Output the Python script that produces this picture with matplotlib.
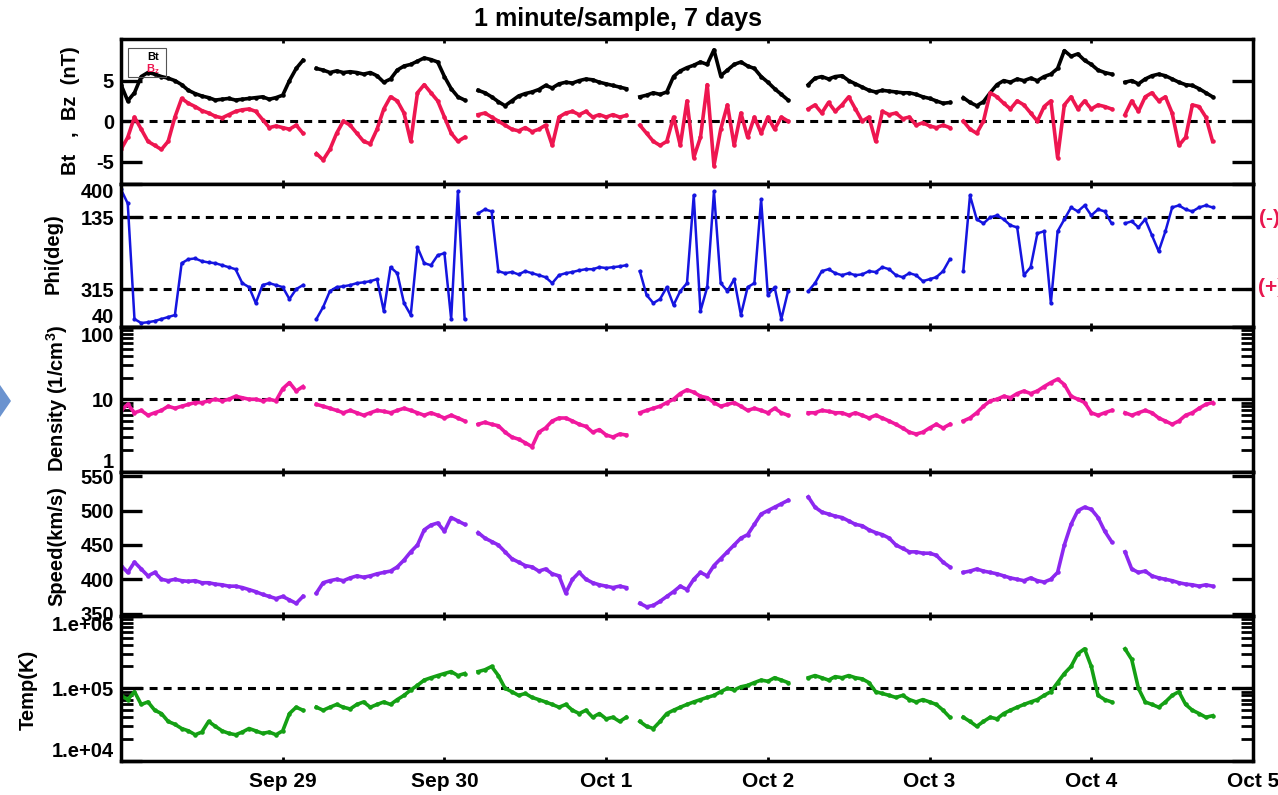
import numpy as np
import matplotlib.pyplot as plt
from matplotlib.patches import Polygon, Rectangle
from matplotlib.ticker import NullFormatter

plt.rcParams['font.family'] = ['Liberation Sans', 'DejaVu Sans']
plt.rcParams['font.weight'] = 'bold'

# hourly samples starting Sep 28 00:00 UT, None = data gap
hours = np.arange(163)

bt = [4.5, 2.5, 3.5, 5.5, 6.0, 5.8, 5.5, 5.3, 5.0, 4.5, 3.8, 3.4, 3.1, 2.9, 2.6, 2.7, 2.8, 2.6, 2.7, 2.8, 2.9, 3.0, 2.7, 2.9,
      3.2, 5.0, 6.5, 7.5, None, 6.5, 6.3, 6.0, 6.2, 6.0, 6.1, 6.0, 5.8, 6.0, 5.6, 4.8, 5.2, 6.3, 6.8, 7.0, 7.4, 7.8, 7.6, 7.3,
      5.5, 4.0, 3.0, 2.6, None, 3.8, 3.5, 3.0, 2.4, 1.9, 2.5, 3.1, 3.4, 3.6, 3.9, 4.4, 4.1, 4.6, 4.8, 4.7, 5.0, 5.2, 5.1, 4.8,
      4.6, 4.4, 4.2, 4.0, None, 3.0, 3.2, 3.5, 3.3, 3.6, 5.5, 6.2, 6.6, 6.9, 7.3, 7.0, 8.8, 5.6, 6.3, 7.0, 7.3, 6.8, 6.5, 5.5,
      4.8, 4.0, 3.3, 2.6, None, None, 4.5, 5.3, 5.5, 5.2, 5.5, 5.6, 5.0, 4.6, 4.2, 3.8, 3.6, 3.8, 3.7, 3.6, 3.5, 3.5, 3.3, 3.0,
      2.8, 2.5, 2.2, 2.3, None, 2.9, 2.3, 1.9, 2.4, 3.5, 4.5, 5.0, 4.8, 5.2, 5.0, 5.3, 5.0, 5.5, 5.8, 6.5, 8.7, 8.0, 8.3, 7.5,
      7.0, 6.3, 6.0, 5.8, None, 4.8, 5.0, 4.6, 5.2, 5.6, 5.8, 5.6, 5.2, 4.8, 4.5, 4.4, 4.0, 3.5, 3.0]

bz = [-3.5, -2.0, 0.5, -1.0, -2.5, -3.0, -3.5, -2.5, 0.5, 2.8, 2.2, 1.8, 1.3, 1.0, 0.6, 0.4, 0.8, 1.2, 1.4, 1.5, 1.2, 0.2, -0.8, -0.6,
      -0.8, -1.0, -0.5, -1.5, None, -4.0, -4.8, -3.5, -1.5, 0.0, -0.5, -1.5, -2.5, -2.8, -1.0, 1.5, 3.0, 2.5, 1.0, -2.5, 3.5, 4.5, 3.5, 2.5,
      0.5, -1.5, -2.5, -2.0, None, 0.8, 1.0, 0.5, 0.0, -0.5, -1.0, -1.2, -0.8, -1.3, -1.0, -0.5, -3.0, 0.5, 1.0, 1.2, 0.8, 1.2, 0.5, 0.8,
      0.5, 0.8, 0.5, 0.7, None, -0.5, -1.5, -2.5, -3.0, -2.5, 0.5, -3.0, 2.5, -4.5, -2.0, 4.5, -5.5, -1.0, 2.0, -3.0, 1.0, -2.0, 0.5, -1.5,
      0.5, -1.0, 0.5, 0.0, None, None, 1.5, 2.0, 1.0, 2.3, 1.2, 2.0, 3.0, 1.5, 0.0, 0.5, -2.5, 1.2, 0.8, 1.0, 0.3, 0.5, -0.5, -0.2,
      -0.6, -0.8, -0.5, -0.8, None, 0.0, -1.0, -1.5, 0.0, 3.5, 3.0, 2.2, 1.5, 2.5, 2.0, 1.0, 0.0, 1.8, 2.5, -4.5, 2.0, 3.0, 1.5, 2.5,
      1.5, 2.0, 1.8, 1.5, None, 0.8, 2.5, 1.2, 3.0, 3.5, 2.5, 3.0, 1.0, -3.0, -2.0, 2.0, 1.8, 0.5, -2.5]

phi = [65, 100, 390, 400, 398, 395, 390, 385, 380, 250, 240, 238, 245, 248, 250, 255, 260, 265, 300, 310, 350, 305, 300, 305,
       310, 340, 315, 305, None, 390, 360, 320, 310, 308, 305, 300, 298, 295, 290, 370, 260, 275, 350, 380, 210, 250, 255, 230,
       225, 390, 70, 390, None, 125, 115, 120, 270, 275, 272, 278, 270, 275, 280, 285, 300, 280, 275, 272, 268, 265, 265, 260,
       262, 260, 258, 255, None, 270, 330, 350, 340, 310, 355, 320, 300, 80, 370, 310, 70, 300, 320, 290, 380, 310, 300, 90,
       330, 310, 390, 320, None, None, 320, 300, 270, 265, 275, 280, 275, 280, 278, 270, 272, 260, 265, 280, 285, 275, 280, 295,
       290, 285, 270, 240, None, 270, 80, 140, 150, 135, 130, 140, 155, 160, 280, 260, 175, 170, 350, 170, 140, 110, 120, 105,
       130, 115, 120, 150, None, 150, 145, 160, 140, 180, 220, 170, 110, 105, 115, 120, 110, 105, 110]

density = [7.0, 8.5, 6.5, 7.0, 6.0, 6.5, 7.0, 8.0, 7.5, 8.0, 8.5, 9.0, 9.0, 9.5, 10.0, 9.5, 10.0, 11.0, 10.5, 10.0, 10.0, 9.5, 10.0, 9.5,
           14.0, 17.0, 13.0, 15.0, None, 8.5, 8.0, 7.5, 7.0, 6.5, 7.0, 6.5, 6.0, 6.5, 7.0, 6.8, 6.5, 7.0, 7.5, 7.0, 6.5, 6.0, 6.5, 6.0,
           5.5, 6.0, 5.5, 5.0, None, 4.5, 4.8, 4.5, 4.3, 3.5, 3.0, 2.8, 2.5, 2.2, 3.5, 4.0, 5.0, 5.5, 5.5, 5.0, 4.5, 4.2, 3.5, 3.8,
           3.2, 3.0, 3.3, 3.2, None, 6.5, 7.0, 7.5, 8.0, 9.0, 10.0, 12.0, 13.5, 12.5, 11.0, 10.5, 9.0, 8.0, 8.5, 9.0, 8.0, 7.0, 7.5, 7.0,
           6.5, 7.5, 6.5, 6.0, None, None, 6.5, 6.5, 7.0, 6.8, 6.5, 6.5, 6.0, 6.5, 6.0, 5.5, 6.0, 5.5, 5.0, 4.5, 4.0, 3.5, 3.3, 3.5,
           4.0, 4.5, 4.0, 4.5, None, 5.0, 5.5, 6.5, 8.0, 9.5, 10.0, 11.0, 10.5, 12.0, 13.0, 12.0, 13.0, 15.0, 17.0, 19.0, 16.0, 11.0, 10.0, 9.0,
           6.5, 6.0, 6.5, 7.0, None, 6.5, 6.0, 6.5, 7.0, 6.5, 5.5, 5.0, 4.5, 5.0, 6.0, 6.5, 7.5, 8.5, 9.0]

speed = [420, 410, 425, 415, 405, 410, 400, 398, 400, 398, 397, 398, 395, 395, 393, 392, 390, 390, 388, 385, 382, 378, 375, 372,
         375, 370, 365, 375, None, 380, 395, 398, 400, 398, 402, 405, 403, 405, 408, 410, 412, 418, 428, 440, 450, 472, 479, 482,
         470, 490, 485, 480, None, 468, 460, 455, 450, 440, 430, 425, 420, 418, 412, 415, 408, 405, 380, 400, 410, 400, 395, 392,
         390, 388, 390, 388, None, 365, 360, 362, 368, 375, 382, 390, 385, 400, 410, 405, 420, 430, 440, 450, 460, 465, 480, 495,
         500, 505, 510, 515, None, None, 520, 505, 498, 495, 492, 490, 485, 480, 478, 472, 468, 465, 460, 450, 445, 440, 440, 438,
         438, 435, 425, 418, None, 410, 412, 415, 412, 410, 408, 405, 402, 400, 398, 402, 398, 396, 400, 410, 450, 480, 500, 505,
         502, 490, 470, 455, None, 440, 415, 410, 412, 405, 402, 400, 398, 395, 393, 392, 390, 392, 390]

temp = [8.0e4, 7.0e4, 9.0e4, 6.0e4, 6.5e4, 5.0e4, 4.5e4, 3.5e4, 3.2e4, 2.8e4, 2.6e4, 2.3e4, 2.5e4, 3.5e4, 3.0e4, 2.6e4, 2.4e4, 2.3e4, 2.5e4, 2.8e4, 2.6e4, 2.4e4, 2.5e4, 2.3e4,
        2.6e4, 4.5e4, 5.5e4, 5.0e4, None, 5.5e4, 5.0e4, 5.5e4, 6.0e4, 5.5e4, 5.2e4, 6.0e4, 6.5e4, 5.5e4, 6.0e4, 6.5e4, 6.0e4, 7.0e4, 8.0e4, 9.5e4, 1.1e5, 1.3e5, 1.4e5, 1.5e5,
        1.6e5, 1.7e5, 1.5e5, 1.6e5, None, 1.7e5, 1.8e5, 2.0e5, 1.5e5, 1.0e5, 9.0e4, 8.0e4, 8.5e4, 7.5e4, 7.0e4, 6.5e4, 6.0e4, 5.5e4, 6.0e4, 5.0e4, 4.5e4, 5.0e4, 4.0e4, 4.5e4,
        3.8e4, 4.0e4, 3.5e4, 4.0e4, None, 3.5e4, 3.0e4, 2.8e4, 3.5e4, 4.5e4, 5.0e4, 5.5e4, 6.0e4, 6.5e4, 7.0e4, 7.5e4, 8.0e4, 9.0e4, 1.0e5, 9.5e4, 1.05e5, 1.1e5, 1.2e5, 1.3e5,
        1.25e5, 1.4e5, 1.3e5, 1.2e5, None, None, 1.4e5, 1.5e5, 1.4e5, 1.3e5, 1.45e5, 1.4e5, 1.5e5, 1.4e5, 1.35e5, 1.2e5, 9.0e4, 8.5e4, 8.0e4, 7.5e4, 8.0e4, 7.0e4, 6.5e4, 7.0e4,
        6.5e4, 6.0e4, 5.0e4, 4.0e4, None, 4.0e4, 3.5e4, 3.0e4, 3.5e4, 4.0e4, 3.8e4, 4.5e4, 5.0e4, 5.5e4, 6.0e4, 6.5e4, 7.0e4, 8.0e4, 9.0e4, 1.2e5, 1.6e5, 2.0e5, 3.0e5, 3.5e5,
        2.0e5, 8.0e4, 7.0e4, 6.5e4, None, 3.5e5, 2.5e5, 1.0e5, 6.5e4, 6.0e4, 5.5e4, 6.5e4, 8.0e4, 9.0e4, 6.0e4, 5.0e4, 4.5e4, 4.0e4, 4.2e4]

day_ticks = [0, 24, 48, 72, 96, 120, 144, 168]
day_labels = ['', 'Sep 29', 'Sep 30', 'Oct 1', 'Oct 2', 'Oct 3', 'Oct 4', 'Oct 5']

W, H = 1278, 795
fig = plt.figure(figsize=(W / 100, H / 100), dpi=100)

# panel edges in pixels from the top of the figure
left_px, right_px = 121, 1253
edges = [38.5, 183.5, 327, 471.5, 615.7, 761]

axes = []
for i in range(5):
    top, bot = edges[i], edges[i + 1]
    ax = fig.add_axes([left_px / W, 1 - bot / H, (right_px - left_px) / W, (bot - top) / H])
    for sp in ax.spines.values():
        sp.set_linewidth(2.5)
    ax.set_xlim(0, 168)
    ax.set_xticks(day_ticks)
    ax.tick_params(axis='x', which='major', direction='in', top=True, bottom=True,
                   length=3, width=2, pad=8, labelsize=15)
    ax.tick_params(axis='y', which='major', direction='in', left=True, right=True,
                   length=15, width=2.4, pad=5, labelsize=14.5)
    ax.tick_params(axis='y', which='minor', direction='in', left=True, right=True,
                   length=8.5, width=2)
    ax.tick_params(axis='x', which='minor', bottom=False, top=False)
    if i < 4:
        ax.set_xticklabels([])
    else:
        ax.set_xticklabels(day_labels)
    axes.append(ax)

t = hours
dash = dict(color='black', lw=2.2, dashes=(2.6, 2.0), zorder=1)
line = dict(lw=2.6, marker='.', ms=4.5, zorder=2)

# magnetic field
ax = axes[0]
ax.plot(t, np.array(bt, dtype=float), color='black', **line)
ax.plot(t, np.array(bz, dtype=float), color='#ee1650', **line)
ax.axhline(0, **dash)
ax.set_ylim(-7.7, 10.2)
ax.set_yticks([-5, 0, 5], ['-5', '0', '5'])

# field angle
ax = axes[1]
ax.plot(t, np.array(phi, dtype=float), color='#1515e0', lw=1.8, marker='.', ms=4, zorder=2)
ax.axhline(135, **dash)
ax.axhline(315, **dash)
ax.set_ylim(410, 50)
ax.set_yticks([50, 135, 315, 410], ['400', '135', '315', '40'])

# density
ax = axes[2]
ax.plot(t, np.array(density, dtype=float), color='#f0189e', **line)
ax.axhline(10, **dash)
ax.set_yscale('log')
ax.set_ylim(1, 100)
ax.set_yticks([1, 10, 100], ['1', '10', '100'])
ax.yaxis.set_minor_formatter(NullFormatter())

# speed
ax = axes[3]
ax.plot(t, np.array(speed, dtype=float), color='#8c28f0', **line)
ax.set_ylim(347, 557)
ax.set_yticks([350, 400, 450, 500, 550], ['350', '400', '450', '500', '550'])

# temperature
ax = axes[4]
ax.plot(t, np.array(temp, dtype=float), color='#14a014', **line)
ax.axhline(1e5, **dash)
ax.set_yscale('log')
ax.set_ylim(1e4, 1e6)
ax.set_yticks([1e4, 1e5, 1e6], ['1.e+04', '1.e+05', '1.e+06'])
ax.yaxis.set_minor_formatter(NullFormatter())

# labels of ticks sitting on a panel edge are pushed just inside it
for ax in [axes[1], axes[2], axes[4]]:
    lo, hi = ax.get_ylim()
    for tk, loc in zip(ax.yaxis.get_major_ticks(), ax.get_yticks()):
        if np.isclose(loc, hi):
            tk.label1.set_verticalalignment('top')
        elif np.isclose(loc, lo):
            tk.label1.set_verticalalignment('bottom')


def fx(px):
    return px / W


def fy(py):
    return 1 - py / H


fig.text(fx(618), fy(19), '1 minute/sample, 7 days', ha='center', va='center', fontsize=18)

ylab = dict(rotation=90, ha='center', va='center', fontsize=14.5)
fig.text(fx(70), fy(111), 'Bt   ,  Bz  (nT)', **ylab)
fig.text(fx(53), fy(254), 'Phi(deg)', **ylab)
fig.text(fx(57), fy(398), 'Density (1/cm$^\\mathregular{3}$)', **ylab)
fig.text(fx(57), fy(546), 'Speed(km/s)', **ylab)
fig.text(fx(28), fy(690), 'Temp(K)', **ylab)

# sector markers on the right
fig.text(fx(1259), fy(218), '(-)', color='#e8174f', fontsize=15, va='center', ha='left')
fig.text(fx(1258), fy(288), '(+)', color='#e8174f', fontsize=15, va='center', ha='left')

# small legend box
fig.add_artist(Rectangle((fx(128), fy(77)), 38 / W, 29 / H, transform=fig.transFigure,
                         fill=False, ec='#555555', lw=0.8))
fig.text(fx(153), fy(57), 'Bt', color='black', fontsize=8, ha='center', va='center')
fig.text(fx(153), fy(69), 'B$_\\mathregular{z}$', color='#ee1650', fontsize=8, ha='center', va='center')

# arrow shape at the left edge
fig.add_artist(Polygon([(fx(0), fy(385)), (fx(11), fy(401)), (fx(0), fy(417))],
                       closed=True, transform=fig.transFigure, fc='#6b93cf', ec='none'))

fig.savefig('out.png', dpi=100)
